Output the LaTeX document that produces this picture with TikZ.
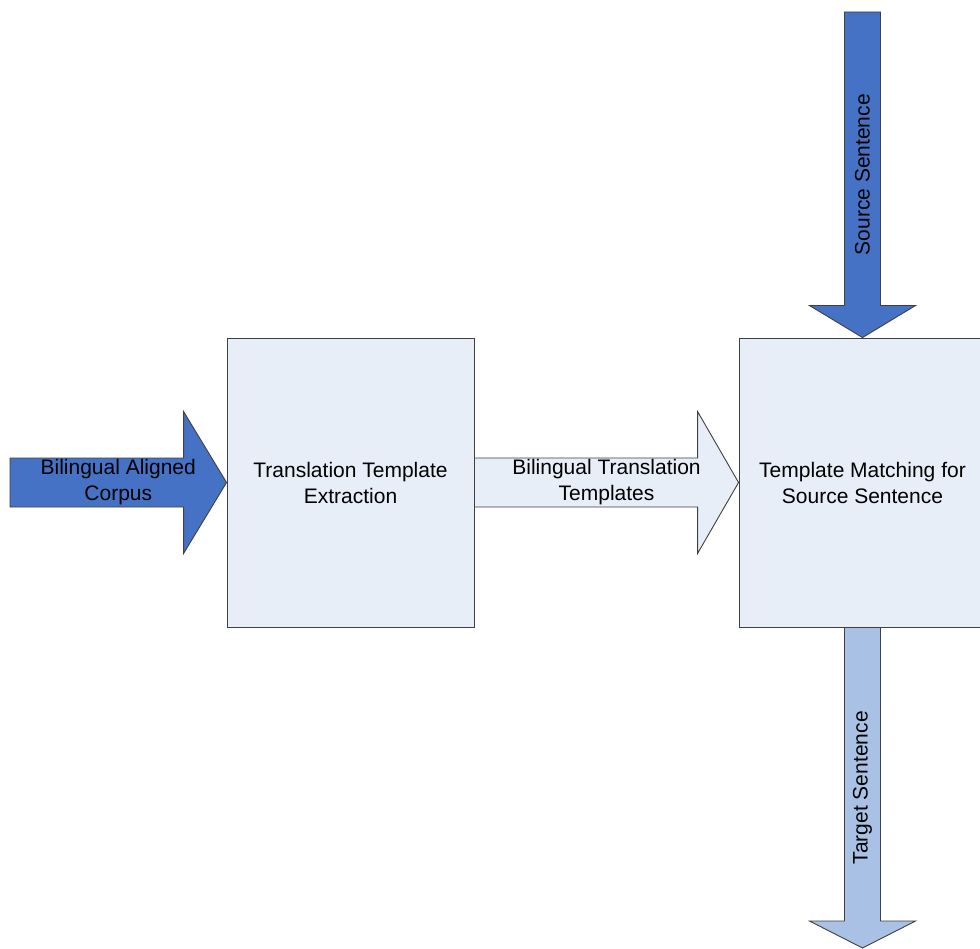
\documentclass[tikz,border=0pt]{standalone}
\usepackage{fontspec}
\setmainfont{Liberation Sans}
\usetikzlibrary{calc}

\definecolor{deepblue}{HTML}{4572C4}
\definecolor{paleblue}{HTML}{E8EEF7}
\definecolor{softblue}{HTML}{A9C1E5}
\definecolor{edgegrey}{HTML}{404040}

\tikzset{
  % process box
  procbox/.style={draw=edgegrey, line width=0.9pt, fill=paleblue,
    minimum width=247pt, minimum height=289pt, inner sep=4pt,
    align=center, font=\fontsize{21}{26}\selectfont},
  % text sitting on a block arrow
  arrowtext/.style={inner sep=0pt, align=center, font=\fontsize{21}{26}\selectfont},
  % block arrow from start to target: {shaft half-width}{head half-width}{head length}
  blockarrow/.style n args={3}{draw=edgegrey, line width=0.9pt, line join=miter,
    to path={let \p1=(\tikztostart), \p2=(\tikztotarget),
      \n1={atan2(\y2-\y1,\x2-\x1)} in
      ($(\p1)+(\n1+90:#1)$)
      -- ($(\p2)+(\n1+180:#3)+(\n1+90:#1)$)
      -- ($(\p2)+(\n1+180:#3)+(\n1+90:#2)$)
      -- (\p2)
      -- ($(\p2)+(\n1+180:#3)+(\n1-90:#2)$)
      -- ($(\p2)+(\n1+180:#3)+(\n1-90:#1)$)
      -- ($(\p1)+(\n1-90:#1)$)
      -- cycle}}
}

\begin{document}
\begin{tikzpicture}[x=1pt, y=-1pt]
  \useasboundingbox (0,0) rectangle (980,949);
  \clip (0,0) rectangle (980,949);
  \fill[white] (0,0) rectangle (980,949);

  % process boxes
  \node[procbox] (extract) at (350.5,482.5) {Translation Template\\Extraction};
  \node[procbox] (match) at (862.5,482.5) {Template Matching for\\Source Sentence};

  % free ends of the input and output arrows
  \coordinate (corpus) at (10,482.5);
  \coordinate (source) at (862.5,12);
  \coordinate (target) at (862.5,948);

  % block arrows
  \draw[blockarrow={24.5pt}{71pt}{43pt}, fill=deepblue] (corpus) to (extract.west);
  \draw[blockarrow={24.5pt}{71pt}{41pt}, fill=paleblue] (extract.east) to (match.west);
  \draw[blockarrow={18pt}{53pt}{32pt}, fill=deepblue] (source) to (match.north);
  \draw[blockarrow={18pt}{53pt}{27pt}, fill=softblue] (match.south) to (target);

  % arrow labels
  \node[arrowtext] (corpuslbl) at ($(corpus)!0.5!(extract.west)$) {Bilingual Aligned\\Corpus};
  \node[arrowtext] (templbl) at ($(extract.east)!0.5!(match.west)$) {Bilingual Translation\\Templates};
  \node[arrowtext, rotate=90] (srclbl) at ($(source)!0.5!(match.north)$) {Source Sentence};
  \node[arrowtext, rotate=90] (tgtlbl) at ($(match.south)!0.5!(target)$) {Target Sentence};
\end{tikzpicture}
\end{document}
